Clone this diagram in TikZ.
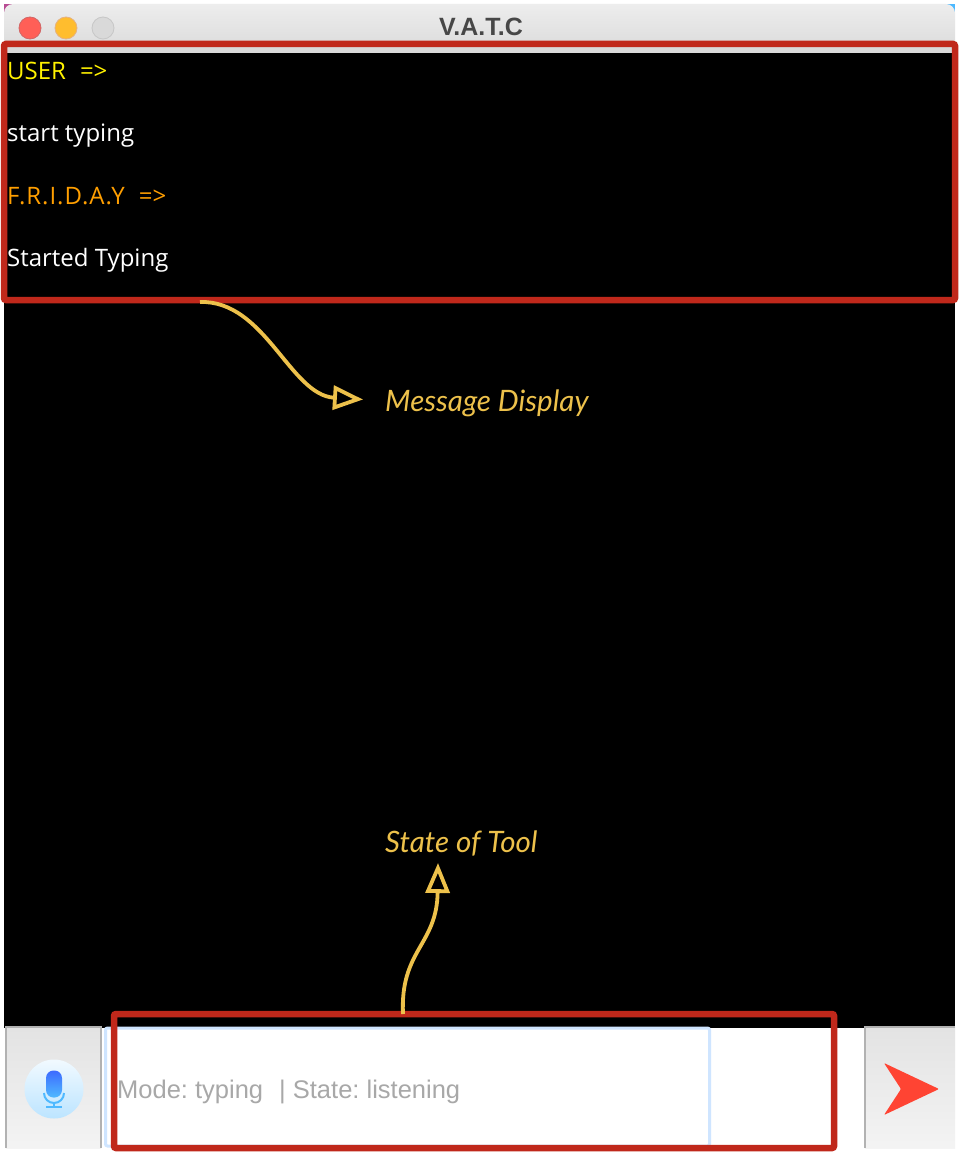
\documentclass[tikz,border=0pt]{standalone}
\usepackage{fontspec}
\setmainfont{Liberation Sans}
\newfontfamily\chatfont{Open Sans}
\newfontfamily\spacedfont[LetterSpace=4]{Open Sans}
\newfontfamily\notefont{Lato}
\usetikzlibrary{arrows.meta}
\definecolor{markred}{HTML}{C0281B}
\definecolor{noteyellow}{HTML}{EDC14B}
\definecolor{fieldblue}{HTML}{CFE5FF}
\definecolor{hintgray}{HTML}{A8A8A8}
\definecolor{fridayorange}{HTML}{FF9F00}
\definecolor{sendred}{HTML}{FF4433}
\definecolor{micblue}{HTML}{3D6BFF}
\definecolor{micsky}{HTML}{4FB9FF}
\tikzset{
>={Triangle[open,length=30pt,width=24pt,line width=3.8pt]},
	markbox/.style={
		rectangle,
		rounded corners=2pt,
		draw=markred, line width=6.5pt,
		inner sep=0pt},
	chatline/.style={
		anchor=base west,
		inner sep=0pt,
		font=\chatfont\fontsize{24}{28}\selectfont},
	note/.style={
		anchor=base west,
		inner sep=0pt,
		text=noteyellow,
		font=\notefont\itshape\fontsize{29.5}{36}\selectfont},
	notearrow/.style={
		->,
		draw=noteyellow, line width=3.8pt},
	toolbutton/.style={
		rectangle,
		inner sep=0pt,
		top color=black!11,
		bottom color=black!4.5},
	light/.style={
		circle,
		minimum size=22pt,
		inner sep=0pt,
		line width=0.8pt}
}
\begin{document}
\begin{tikzpicture}
[x=1pt,y=-1pt]
\useasboundingbox (0,0) rectangle (968,1156);
\fill[white] (0,0) rectangle (968,1156);
% window corners
\fill[red!60!blue!70!white] (4,4) rectangle (16,16);
\fill[blue!40!cyan!70!white] (943,4) rectangle (955,12);
% title bar
\node[rectangle, rounded corners=9pt, top color=black!7, bottom color=black!15,
	minimum width=951pt, minimum height=52pt, inner sep=0pt] (titlebar) at (479.5,30) {};
\node[font=\bfseries\fontsize{25}{28}\selectfont, text=black!72] (title) at (481,27) {V.A.T.C};
\node[light, fill={rgb,255:red,255;green,95;blue,87}, draw=red!70!black!60] (closelight) at (30,28) {};
\node[light, fill={rgb,255:red,255;green,189;blue,46}, draw=orange!80!black!50] (minlight) at (66,28) {};
\node[light, fill=black!15, draw=black!22] (maxlight) at (103,28) {};
% terminal
\fill[black!15] (4,46) rectangle (955,53);
\fill[black] (4,53) rectangle (955,1028);
% bottom row
\node[toolbutton, minimum width=95pt, minimum height=121pt] (micbutton) at (53.5,1087.5) {};
\draw[black!30, line width=1.5pt] (micbutton.south west) -- (micbutton.north west) -- (micbutton.north east) -- (micbutton.south east);
\node[rectangle, fill=white, draw=fieldblue, line width=3pt, rounded corners=2pt,
	minimum width=604pt, minimum height=118pt, inner sep=0pt] (inputfield) at (407.5,1087) {};
\fill[white] (713,1028) rectangle (865,1147);
\node[toolbutton, minimum width=90pt, minimum height=121pt] (sendbutton) at (910,1087.5) {};
\draw[black!30, line width=1.5pt] (sendbutton.south west) -- (sendbutton.north west) -- (sendbutton.north east);
% mic icon
\node[circle, minimum size=59pt, inner sep=0pt, top color=micsky!8!white, bottom color=micsky!38!white] (micdisc) at (54,1089) {};
\node[rectangle, rounded corners=7.5pt, minimum width=16pt, minimum height=27pt, inner sep=0pt,
	top color=micblue, bottom color=micsky] (micbody) at (54,1084) {};
\draw[micsky, line width=2pt] (44,1093) arc[start angle=180, end angle=360, x radius=10, y radius=-10];
\draw[micsky, line width=2pt] (54,1103) -- (54,1107);
\draw[micsky, line width=2pt] (46,1107) -- (62,1107);
% send icon
\fill[sendred, rounded corners=1pt] (884,1063) -- (939,1089) -- (884,1115) -- (901,1089) -- cycle;
% messages
\node[chatline, text=yellow] (userhead) at (7,79) {USER\hspace{14pt}=>};
\node[chatline, text=white] (usertext) at (7,141.5) {start typing};
\node[chatline, text=fridayorange] (fridayhead) at (7,204) {{\spacedfont F.R.I.D.A.Y}\hspace{14pt}=>};
\node[chatline, text=white] (fridaytext) at (7,266.5) {Started Typing};
\node[anchor=base west, inner sep=0pt, text=hintgray, font=\fontsize{25.5}{30}\selectfont] (statetext) at (117,1098.5) {\frenchspacing Mode: typing\hspace{16pt}| State: listening};
% marks
\node[markbox, minimum width=951pt, minimum height=256pt] (displaybox) at (479.5,172) {};
\node[markbox, minimum width=720pt, minimum height=134pt] (statebox) at (474,1081) {};
\node[note] (displaynote) at (385,411) {Message Display};
\node[note] (statenote) at (385,852) {State of Tool};
\coordinate (displayfoot) at (200,302);
\coordinate (displaytip) at (363,399.5);
\coordinate (statefoot) at (403,1014);
\coordinate (statetip) at (438,863);
\draw[notearrow] (displayfoot) .. controls (265,300) and (290,395) .. (displaytip);
\draw[notearrow] (statefoot) .. controls (400,950) and (437,945) .. (statetip);
\end{tikzpicture}
\end{document}
